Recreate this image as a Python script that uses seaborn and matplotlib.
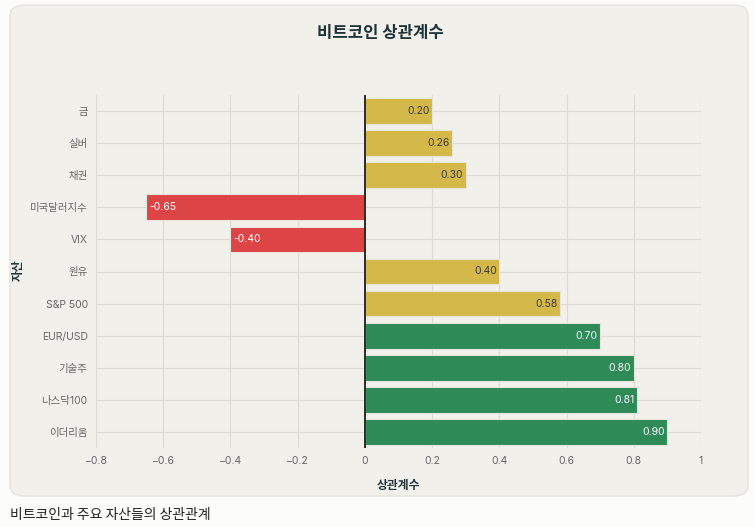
import numpy as np
import pandas as pd
import matplotlib
matplotlib.use('Agg')
import matplotlib.pyplot as plt
from matplotlib.patches import FancyBboxPatch
import seaborn as sns

assets = ['금', '실버', '채권', '미국달러지수', 'VIX', '원유', 'S&P 500',
          'EUR/USD', '기술주', '나스닥100', '이더리움']
corr = [0.20, 0.26, 0.30, -0.65, -0.40, 0.40, 0.58, 0.70, 0.80, 0.81, 0.90]
groups = ['중간', '중간', '중간', '음', '음', '중간', '중간', '강함', '강함', '강함', '강함']
palette = {'중간': '#d4b84a', '음': '#dc4446', '강함': '#2e8b57'}
label_colors = {'중간': '#3a3a3a', '음': 'white', '강함': 'white'}
xticks = [-0.8, -0.6, -0.4, -0.2, 0, 0.2, 0.4, 0.6, 0.8, 1]
xtick_labels = ['−0.8', '−0.6', '−0.4', '−0.2', '0', '0.2', '0.4', '0.6', '0.8', '1']

df = pd.DataFrame({'asset': assets, 'corr': corr, 'group': groups})

sns.set_theme(style='white')
plt.rcParams['font.family'] = ['Inter', 'Noto Sans CJK KR', 'DejaVu Sans']
plt.rcParams['axes.unicode_minus'] = False
korean = ['Noto Sans CJK KR', 'DejaVu Sans']

fig = plt.figure(figsize=(7.55, 5.27), dpi=100)
fig.patch.set_facecolor('#fcfcf9')

# card background
card = FancyBboxPatch((10 / 755, 1 - 496 / 527), 738 / 755, 491 / 527,
                      boxstyle='round,pad=0,rounding_size=0.02',
                      transform=fig.transFigure, facecolor='#f1f0eb',
                      edgecolor='#e3e2dd', linewidth=1, zorder=-10)
fig.patches.append(card)

ax = fig.add_axes([96 / 755, 1 - 448 / 527, 605 / 755, 353 / 527])
ax.set_zorder(1)
ax.set_facecolor('none')

sns.barplot(data=df, y='asset', x='corr', hue='group', palette=palette,
            order=assets, hue_order=['중간', '음', '강함'], dodge=False,
            saturation=1, width=0.8, edgecolor='#e6e4da', linewidth=0.8,
            legend=False, ax=ax)

ax.set_xlim(-0.8, 1)
ax.set_ylim(10.5, -0.5)
ax.set_xticks(xticks)
ax.set_xticklabels(xtick_labels)
ax.grid(True, color='#dcdbd6', linewidth=0.8)
ax.set_axisbelow(True)
for s in ax.spines.values():
    s.set_visible(False)
ax.axvline(0, color='#2b2b2b', linewidth=1.4, zorder=3)
ax.tick_params(axis='both', length=0, labelsize=7.5, labelcolor='#666666', pad=6)

for i, (v, g) in enumerate(zip(corr, groups)):
    if v >= 0:
        ax.text(v - 0.008, i, f'{v:.2f}', ha='right', va='center',
                fontsize=7.5, color=label_colors[g])
    else:
        ax.text(v + 0.008, i, f'{v:.2f}', ha='left', va='center',
                fontsize=7.5, color=label_colors[g])

ax.set_xlabel('상관계수', fontsize=8.5, fontweight='bold', color='#1f3438',
              labelpad=9, family=korean)
ax.set_ylabel('')
fig.text(18 / 755, 1 - 270 / 527, '자산', rotation=90, ha='center', va='center',
         fontsize=8.5, fontweight='bold', color='#1f3438', family=korean)

fig.text(380 / 755, 1 - 33 / 527, '비트코인 상관계수', ha='center', va='center',
         fontsize=12, fontweight='bold', color='#1f3438', family=korean)
fig.text(10 / 755, 1 - 515 / 527, '비트코인과 주요 자산들의 상관관계', ha='left', va='center',
         fontsize=10, color='#222222', family=korean)

fig.savefig('out.png', dpi=100, facecolor=fig.get_facecolor())
